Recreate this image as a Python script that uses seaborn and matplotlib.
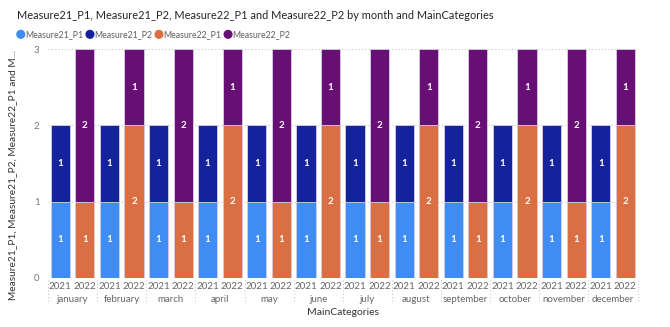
import matplotlib
matplotlib.use("Agg")
import matplotlib.pyplot as plt
import matplotlib.transforms as mtransforms
import seaborn as sns
import pandas as pd
import numpy as np

months = ["january", "february", "march", "april", "may", "june", "july",
          "august", "september", "october", "november", "december"]
years = ["2021", "2022"]
m21_p1 = [1, 1, 1, 1, 1, 1, 1, 1, 1, 1, 1, 1]
m21_p2 = [1, 1, 1, 1, 1, 1, 1, 1, 1, 1, 1, 1]
m22_p1 = [1, 2, 1, 2, 1, 2, 1, 2, 1, 2, 1, 2]
m22_p2 = [2, 1, 2, 1, 2, 1, 2, 1, 2, 1, 2, 1]
series_names = ["Measure21_P1", "Measure21_P2", "Measure22_P1", "Measure22_P2"]
colors = ["#3F8CF3", "#14239B", "#DB6F44", "#680F75"]

cats = [f"{m}|{y}" for m in months for y in years]

rows = []
for i, m in enumerate(months):
    rows.append(dict(cat=f"{m}|2021", low=m21_p1[i], high=m21_p2[i],
                     low_s=series_names[0], high_s=series_names[1]))
    rows.append(dict(cat=f"{m}|2022", low=m22_p1[i], high=m22_p2[i],
                     low_s=series_names[2], high_s=series_names[3]))
df = pd.DataFrame(rows)
df["total"] = df["low"] + df["high"]

sns.set_style("white")
plt.rcParams['font.family'] = ['Lato', 'DejaVu Sans']

fig = plt.figure(figsize=(6.7, 3.27), dpi=100)
ax = fig.add_axes([0.0716, 0.150, 0.880, 0.700])

W = 0.78
for s, c in zip([series_names[1], series_names[3]], [colors[1], colors[3]]):
    sub = df[df["high_s"] == s]
    sns.barplot(data=sub, x="cat", y="total", order=cats, color=c, width=W,
                saturation=1, ax=ax, edgecolor="#D8D0E8", linewidth=0.6, errorbar=None)
for s, c in zip([series_names[0], series_names[2]], [colors[0], colors[2]]):
    sub = df[df["low_s"] == s]
    sns.barplot(data=sub, x="cat", y="low", order=cats, color=c, width=W,
                saturation=1, ax=ax, edgecolor="#D8D0E8", linewidth=0.6, errorbar=None)

for _, r in df.iterrows():
    xi = cats.index(r["cat"])
    ax.text(xi, r["low"] / 2, str(r["low"]), ha="center", va="center",
            color="white", fontsize=7, fontweight="bold")
    ax.text(xi, r["low"] + r["high"] / 2, str(r["high"]), ha="center", va="center",
            color="white", fontsize=7, fontweight="bold")

ax.set_xlim(-0.5, len(cats) - 0.5)
ax.set_ylim(0, 3)
ax.set_yticks([0, 1, 2, 3])
ax.set_yticklabels(["0", "1", "2", "3"], color="#777777", fontsize=7)
for yv in [0, 1, 2, 3]:
    ax.axhline(yv, color="#C8C8C8", linestyle=(0, (1, 2)), linewidth=0.8, zorder=0)
ax.tick_params(axis="y", length=0, pad=6)
ax.tick_params(axis="x", length=0, pad=3)
ax.set_xticks(range(len(cats)))
ax.set_xticklabels([c.split("|")[1] for c in cats], color="#666666", fontsize=7)
for sp in ax.spines.values():
    sp.set_visible(False)
ax.set_xlabel("")
ax.set_ylabel("Measure21_P1, Measure21_P2, Measure22_P1 and M...", fontsize=7.3,
              color="#333333")
ax.yaxis.set_label_coords(-0.053, 0.45)

trans = mtransforms.blended_transform_factory(ax.transData, ax.transAxes)
for i, m in enumerate(months):
    ax.text(2 * i + 0.5, -0.095, m, transform=trans, ha="center", va="center",
            color="#666666", fontsize=7)
for k in range(len(months) + 1):
    xb = 2 * k - 0.5
    ax.plot([xb, xb], [-0.01, -0.11], transform=trans, clip_on=False,
            color="#C8C8C8", linestyle=(0, (1, 2)), linewidth=0.8)

fig.text(0.512, 0.043, "MainCategories", ha="center", va="center",
         fontsize=7.5, color="#333333")

fig.text(0.026, 0.953, "Measure21_P1, Measure21_P2, Measure22_P1 and Measure22_P2 by month and MainCategories",
         ha="left", va="center", fontsize=7.9, color="#252423")

# legend
fig.canvas.draw()
renderer = fig.canvas.get_renderer()
lx = 0.025
for name, c in zip(series_names, colors):
    fig.patches.append(matplotlib.patches.Ellipse((lx + 0.006, 0.895), 0.0115, 0.0235,
                                                  transform=fig.transFigure, color=c))
    t = fig.text(lx + 0.0125, 0.895, name, ha="left", va="center", fontsize=6.3, color="#605E5C")
    bb = t.get_window_extent(renderer=renderer)
    lx = bb.x1 / fig.bbox.width + 0.004

fig.savefig("out.png", dpi=100)
